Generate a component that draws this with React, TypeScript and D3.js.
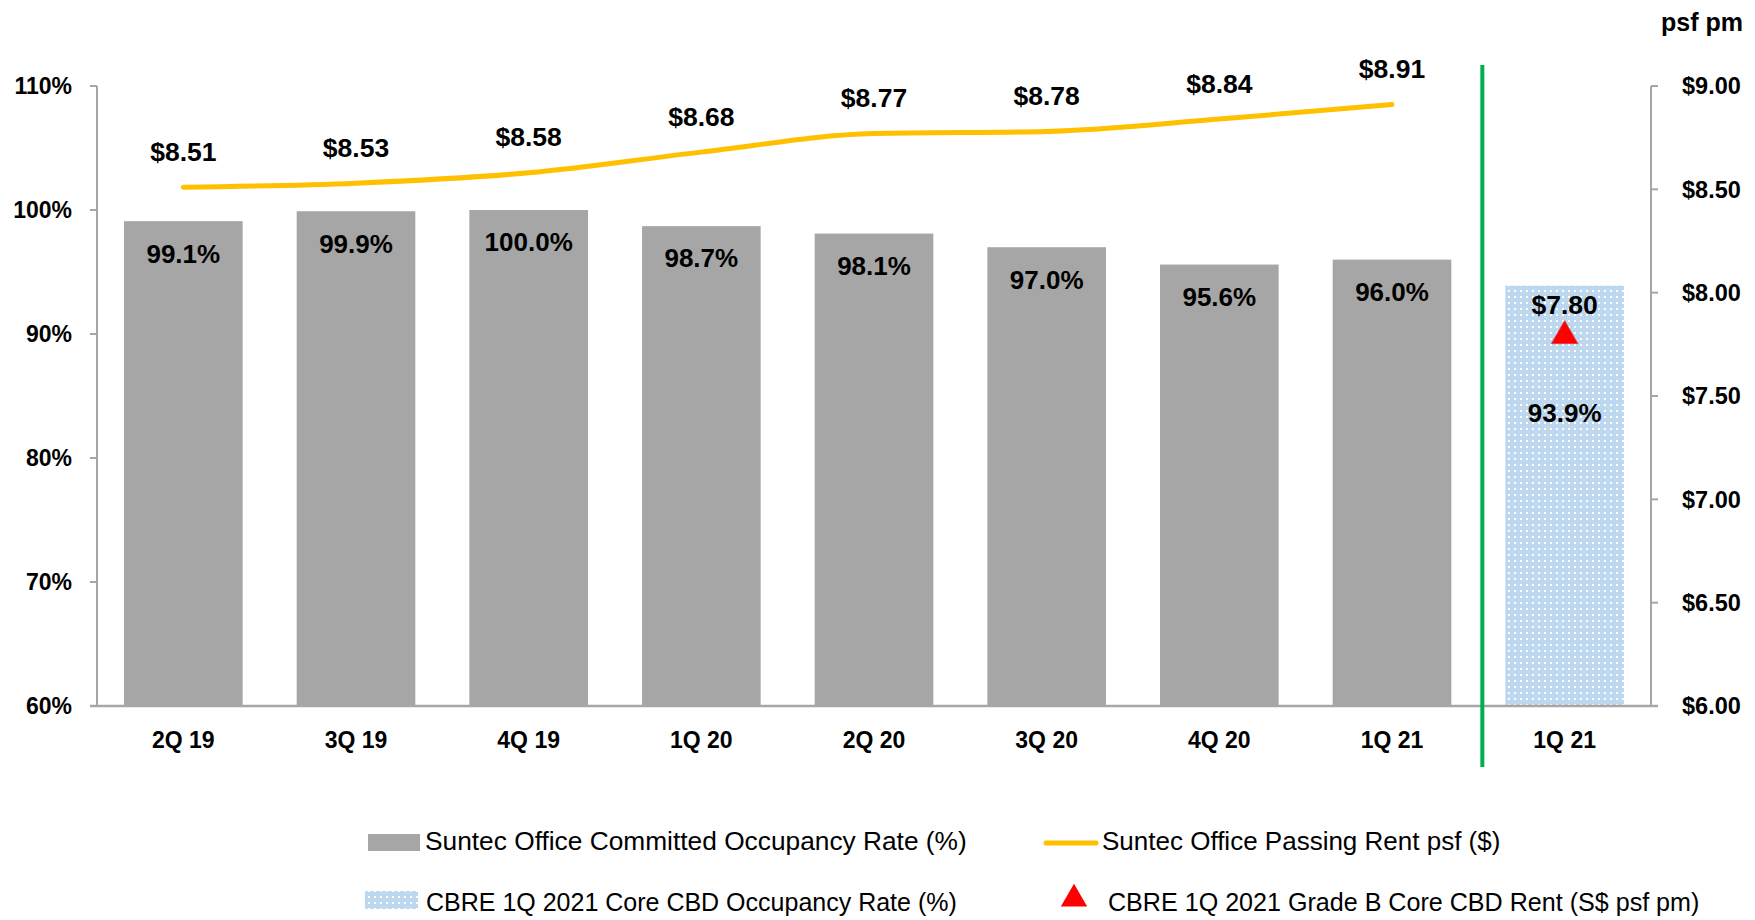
import { useEffect, useRef } from "react";
import * as d3 from "d3";

const categories = ["2Q 19", "3Q 19", "4Q 19", "1Q 20", "2Q 20", "3Q 20", "4Q 20", "1Q 21", "1Q 21"];
const occupancy = [99.1, 99.9, 100.0, 98.7, 98.1, 97.0, 95.6, 96.0];
const passingRent = [8.51, 8.53, 8.58, 8.68, 8.77, 8.78, 8.84, 8.91];
const cbreOccupancy = [93.9];
const cbreRent = [7.8];
const leftTicks = [60, 70, 80, 90, 100, 110];
const rightTicks = [6, 6.5, 7, 7.5, 8, 8.5, 9];

const FONT = "'Liberation Sans', Arial, sans-serif";
const DY = "0.36em";

export default function App() {
  const ref = useRef<HTMLDivElement>(null);

  useEffect(() => {
    d3.select(ref.current).select("svg").remove();

    const width = 1755;
    const height = 920;
    const left = 97;
    const right = 1651;
    const top = 86;
    const bottom = 706;

    const svg = d3
      .select(ref.current)
      .append("svg")
      .attr("width", width)
      .attr("height", height)
      .style("position", "absolute")
      .style("left", "0px")
      .style("top", "0px")
      .style("font-family", FONT);

    // dotted fill for the CBRE bar
    const pat = svg
      .append("defs")
      .append("pattern")
      .attr("id", "dots")
      .attr("width", 6)
      .attr("height", 6)
      .attr("patternUnits", "userSpaceOnUse");
    pat.append("rect").attr("width", 6).attr("height", 6).attr("fill", "#bdd7ee");
    pat.append("rect").attr("x", 2).attr("y", 2).attr("width", 2).attr("height", 2).attr("fill", "#ffffff");

    const keys = categories.map((_, i) => String(i));
    const x = d3.scaleBand().domain(keys).range([left, right]).paddingInner(0.313).paddingOuter(0.1565);
    const yL = d3.scaleLinear().domain([60, 110]).range([bottom, top]);
    const yR = d3.scaleLinear().domain([6, 9]).range([bottom, top]);
    const bw = x.bandwidth();
    const cx = (i) => (x(String(i)) as number) + bw / 2;

    // bars
    svg
      .selectAll("rect.bar")
      .data(occupancy)
      .enter()
      .append("rect")
      .attr("class", "bar")
      .attr("x", (d, i) => x(String(i)))
      .attr("y", (d) => yL(d))
      .attr("width", bw)
      .attr("height", (d) => bottom - yL(d))
      .attr("fill", "#a6a6a6");

    svg
      .selectAll("text.barlab")
      .data(occupancy)
      .enter()
      .append("text")
      .attr("x", (d, i) => cx(i))
      .attr("y", (d) => yL(d) + 32)
      .attr("dy", DY)
      .attr("text-anchor", "middle")
      .attr("font-size", 26)
      .attr("font-weight", "bold")
      .text((d) => d.toFixed(1) + "%");

    const ci = 8;
    svg
      .selectAll("rect.cbre")
      .data(cbreOccupancy)
      .enter()
      .append("rect")
      .attr("x", x(String(ci)))
      .attr("y", (d) => yL(d))
      .attr("width", bw)
      .attr("height", (d) => bottom - yL(d))
      .attr("fill", "url(#dots)");

    svg
      .selectAll("text.cbrelab")
      .data(cbreOccupancy)
      .enter()
      .append("text")
      .attr("x", cx(ci))
      .attr("y", (d) => yL(d) + 127)
      .attr("dy", DY)
      .attr("text-anchor", "middle")
      .attr("font-size", 26)
      .attr("font-weight", "bold")
      .text((d) => d.toFixed(1) + "%");

    // axes
    const axisColor = "#a6a6a6";
    svg.append("line").attr("x1", left).attr("x2", left).attr("y1", top).attr("y2", bottom).attr("stroke", axisColor).attr("stroke-width", 2);
    svg.append("line").attr("x1", right).attr("x2", right).attr("y1", top).attr("y2", bottom).attr("stroke", axisColor).attr("stroke-width", 2);
    svg.append("line").attr("x1", left - 7).attr("x2", right + 7).attr("y1", bottom).attr("y2", bottom).attr("stroke", axisColor).attr("stroke-width", 2.5);

    svg
      .selectAll("line.lt")
      .data(leftTicks)
      .enter()
      .append("line")
      .attr("x1", left - 7)
      .attr("x2", left)
      .attr("y1", (d) => yL(d))
      .attr("y2", (d) => yL(d))
      .attr("stroke", axisColor)
      .attr("stroke-width", 2);

    svg
      .selectAll("text.lt")
      .data(leftTicks)
      .enter()
      .append("text")
      .attr("x", left - 25)
      .attr("y", (d) => yL(d))
      .attr("dy", DY)
      .attr("text-anchor", "end")
      .attr("font-size", 23)
      .attr("font-weight", "bold")
      .text((d) => d + "%");

    svg
      .selectAll("line.rt")
      .data(rightTicks)
      .enter()
      .append("line")
      .attr("x1", right)
      .attr("x2", right + 7)
      .attr("y1", (d) => yR(d))
      .attr("y2", (d) => yR(d))
      .attr("stroke", axisColor)
      .attr("stroke-width", 2);

    svg
      .selectAll("text.rt")
      .data(rightTicks)
      .enter()
      .append("text")
      .attr("x", right + 31)
      .attr("y", (d) => yR(d))
      .attr("dy", DY)
      .attr("font-size", 23.5)
      .attr("font-weight", "bold")
      .text((d) => "$" + d.toFixed(2));

    svg
      .append("text")
      .attr("x", 1743)
      .attr("y", 22)
      .attr("dy", DY)
      .attr("text-anchor", "end")
      .attr("font-size", 25)
      .attr("font-weight", "bold")
      .text("psf pm");

    svg
      .selectAll("text.cat")
      .data(categories)
      .enter()
      .append("text")
      .attr("x", (d, i) => cx(i))
      .attr("y", 740)
      .attr("dy", DY)
      .attr("text-anchor", "middle")
      .attr("font-size", 23)
      .attr("font-weight", "bold")
      .text((d) => d);

    // divider
    const divX = (x(String(7)) as number) + bw + (x.step() - bw) / 2 + 4;
    svg.append("line").attr("x1", divX).attr("x2", divX).attr("y1", 65).attr("y2", 767).attr("stroke", "#00b050").attr("stroke-width", 4);

    // rent line
    const line = d3
      .line<number>()
      .x((d, i) => cx(i))
      .y((d) => yR(d))
      .curve(d3.curveMonotoneX);
    svg
      .append("path")
      .datum(passingRent)
      .attr("d", line)
      .attr("fill", "none")
      .attr("stroke", "#ffc000")
      .attr("stroke-width", 5)
      .attr("stroke-linecap", "round");

    svg
      .selectAll("text.rent")
      .data(passingRent)
      .enter()
      .append("text")
      .attr("x", (d, i) => cx(i))
      .attr("y", (d) => yR(d) - 36)
      .attr("dy", DY)
      .attr("text-anchor", "middle")
      .attr("font-size", 26.5)
      .attr("font-weight", "bold")
      .text((d) => "$" + d.toFixed(2));

    // CBRE rent marker
    const tri = d3.symbol().type(d3.symbolTriangle).size(300);
    svg
      .selectAll("path.cbrerent")
      .data(cbreRent)
      .enter()
      .append("path")
      .attr("d", tri)
      .attr("transform", (d) => `translate(${cx(ci)},${yR(d) + 2})`)
      .attr("fill", "#ff0000")
      .attr("stroke", "#d94040")
      .attr("stroke-width", 1);

    svg
      .selectAll("text.cbrerentlab")
      .data(cbreRent)
      .enter()
      .append("text")
      .attr("x", cx(ci))
      .attr("y", (d) => yR(d) - 30)
      .attr("dy", DY)
      .attr("text-anchor", "middle")
      .attr("font-size", 26.5)
      .attr("font-weight", "bold")
      .text((d) => "$" + d.toFixed(2));

    // legend
    const lg = svg.append("g");
    lg.append("rect").attr("x", 368).attr("y", 834).attr("width", 52).attr("height", 17).attr("fill", "#a6a6a6");
    lg.append("text").attr("x", 425).attr("y", 843).attr("dominant-baseline", "middle").attr("font-size", 26.3).text("Suntec Office Committed Occupancy Rate (%)");
    lg.append("line").attr("x1", 1046).attr("x2", 1096).attr("y1", 843).attr("y2", 843).attr("stroke", "#ffc000").attr("stroke-width", 5).attr("stroke-linecap", "round");
    lg.append("text").attr("x", 1102).attr("y", 843).attr("dominant-baseline", "middle").attr("font-size", 26).text("Suntec Office Passing Rent psf ($)");

    lg.append("rect").attr("x", 365).attr("y", 891).attr("width", 53).attr("height", 18).attr("fill", "url(#dots)");
    lg.append("text").attr("x", 426).attr("y", 904).attr("dominant-baseline", "middle").attr("font-size", 25).text("CBRE 1Q 2021 Core CBD Occupancy Rate (%)");
    lg.append("path").attr("d", tri).attr("transform", "translate(1074,899)").attr("fill", "#ff0000");
    lg.append("text").attr("x", 1108).attr("y", 904).attr("dominant-baseline", "middle").attr("font-size", 25.1).text("CBRE 1Q 2021 Grade B Core CBD Rent (S$ psf pm)");
  }, []);

  return <div ref={ref}></div>;
}
